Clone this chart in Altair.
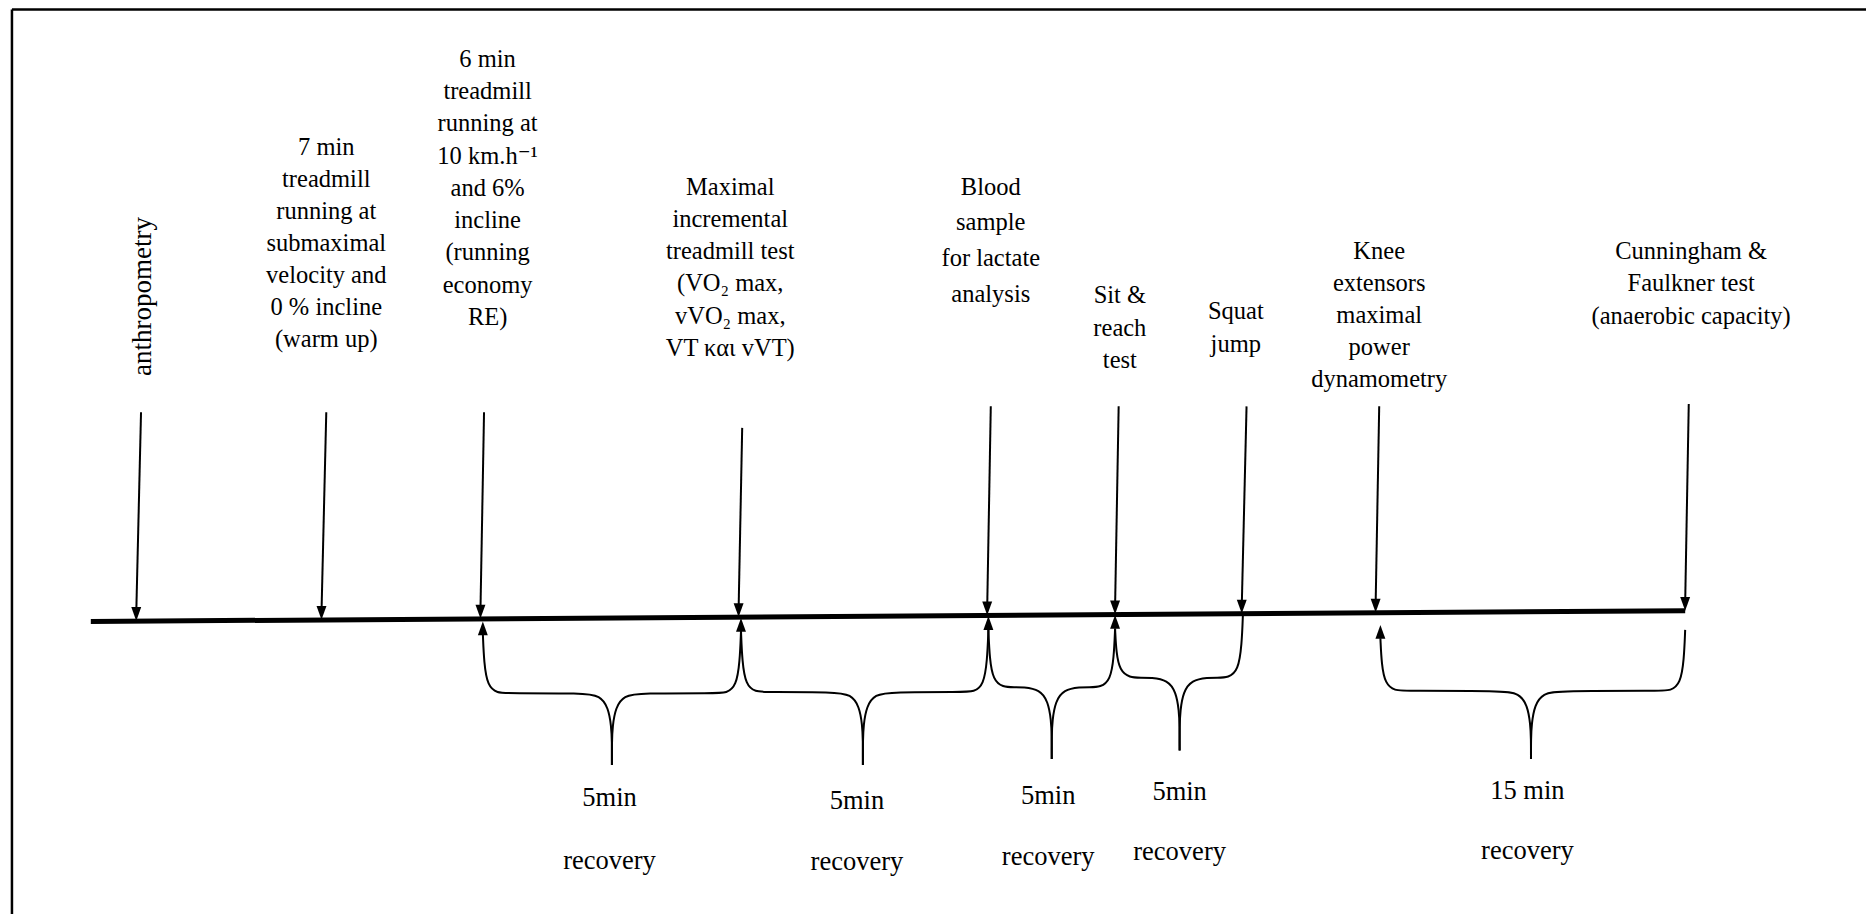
import altair as alt
import pandas as pd

# ---------------- data (positions in reference-image units, 1568x771 grid) ----------------
K = 1874 / 1568
W, H = 1858, 906

timeline_x = [76, 1410]
timeline_y = [520, 511]

event_labels = [
    "anthropometry",
    "7 min|treadmill|running at|submaximal|velocity and|0 % incline|(warm up)",
    "6 min|treadmill|running at|10 km.h⁻¹|and 6%|incline|(running|economy|RE)",
    "Maximal|incremental|treadmill test|(VO₂ max,|vVO₂ max,|VT και vVT)",
    "Blood|sample|for lactate|analysis",
    "Sit &|reach|test",
    "Squat|jump",
    "Knee|extensors|maximal|power|dynamometry",
    "Cunningham &|Faulkner test|(anaerobic capacity)",
]
label_cx = [120, 273, 408, 611, 829, 937, 1034, 1154, 1415]
label_y0 = [248, 124, 50, 157, 157, 248, 261, 211, 211]
label_dy = [0, 26.7, 27, 27, 30, 27, 28, 26.8, 27]

arrow_top_x = [118, 273, 405, 621, 829, 936, 1043, 1154, 1413]
arrow_top_y = [345, 345, 345, 358, 340, 340, 340, 340, 338]
arrow_tip_x = [114, 269, 402, 618, 826, 933, 1039, 1151, 1410]
arrow_tip_y = [519.5, 518.5, 517.5, 516.2, 514.8, 514.0, 513.3, 512.5, 511]

brace_left = [404, 620, 827, 933, 1155]
brace_right = [620, 827, 933, 1040, 1410]
brace_mid = [512, 722, 880, 987, 1281]
brace_top_left = [530, 528, 527, 526, 534]
brace_top_right = [528, 527, 526, 513, 527]
brace_h = [580, 579, 575, 567, 578]
brace_bottom = [640, 640, 635, 628, 635]
up_arrow_x = [404, 620, 827, 933, 1155]
up_arrow_y = [520, 517, 515.5, 514.5, 523]

recovery_top = ["5min", "5min", "5min", "5min", "15 min"]
recovery_x = [510, 717, 877, 987, 1278]
recovery_y1 = [668, 670, 666, 663, 662]
recovery_y2 = [720, 721, 717, 713, 712]

frame_left_x = 10
frame_top_y = 8

# ---------------- scales ----------------
xs = alt.Scale(domain=[8 / K, (8 + W) / K], nice=False, zero=False)
ys = alt.Scale(domain=[8 / K, (8 + H) / K], nice=False, zero=False, reverse=True)
X = lambda f: alt.X(f, type="quantitative", scale=xs, axis=None)
Y = lambda f: alt.Y(f, type="quantitative", scale=ys, axis=None)

FONT = "Liberation Serif, Times New Roman, Times, DejaVu Serif, serif"
FS_TOP = 24.5
FS_BOTTOM = 26.5
FS_ROT = 27

# frame (top and left border)
frame_df = pd.DataFrame({
    "x": [frame_left_x, frame_left_x],
    "y": [frame_top_y, frame_top_y],
    "x2": [1580, frame_left_x],
    "y2": [frame_top_y, 780],
})
frame = alt.Chart(frame_df).mark_rule(color="black", strokeWidth=2.5).encode(
    x=X("x"), y=Y("y"), x2="x2", y2="y2")

# timeline
tl_df = pd.DataFrame({"x": timeline_x, "y": timeline_y})
timeline = alt.Chart(tl_df).mark_line(color="black", strokeWidth=5).encode(x=X("x"), y=Y("y"))

# down arrows
arr_df = pd.DataFrame({"x": arrow_top_x, "y": arrow_top_y, "x2": arrow_tip_x,
                       "y2": [v - 6 for v in arrow_tip_y], "tx": arrow_tip_x, "ty": arrow_tip_y})
shafts = alt.Chart(arr_df).mark_rule(color="black", strokeWidth=2).encode(
    x=X("x"), y=Y("y"), x2="x2", y2="y2")
down_heads = alt.Chart(arr_df).mark_point(
    shape="M-0.36,-1L0.36,-1L0,0Z", size=760, filled=True, color="black", opacity=1, strokeWidth=0
).encode(x=X("tx"), y=Y("ty"))

# up arrows
up_df = pd.DataFrame({"x": up_arrow_x, "y": up_arrow_y})
up_heads = alt.Chart(up_df).mark_point(
    shape="M-0.36,1L0.36,1L0,0Z", size=760, filled=True, color="black", opacity=1, strokeWidth=0
).encode(x=X("x"), y=Y("y"))

# braces
rows = []
for b in range(len(brace_left)):
    xc, yh, yb = brace_mid[b], brace_h[b], brace_bottom[b]
    for side, xe, yt in (("L", brace_left[b], brace_top_left[b]), ("R", brace_right[b], brace_top_right[b])):
        s = 1 if xe < xc else -1
        pts = [(xe, yt)] * 3 + [
            (xe + s * 1, yt + 0.5 * (yh - yt)),
            (xe + s * 4, yh - 6),
            (xe + s * 12, yh),
            (xe + s * 22, yh),
            (xc - s * 24, yh),
            (xc - s * 10, yh + 2),
            (xc - s * 3, yh + 12),
            (xc - s * 0.5, yh + 28),
            (xc, yh + 40),
        ] + [(xc, yb)] * 3
        for i, (px, py) in enumerate(pts):
            rows.append({"seg": f"{b}{side}", "i": i, "x": px, "y": py})
brace_df = pd.DataFrame(rows)
braces = alt.Chart(brace_df).mark_line(color="black", strokeWidth=2, interpolate="basis").encode(
    x=X("x"), y=Y("y"), detail="seg:N", order="i:Q")

# top labels
lab_rows = []
for k, lab in enumerate(event_labels):
    if k == 0:
        continue
    for j, line in enumerate(lab.split("|")):
        lab_rows.append({"t": line, "x": label_cx[k], "y": label_y0[k] + j * label_dy[k]})
lab_df = pd.DataFrame(lab_rows)
labels = alt.Chart(lab_df).mark_text(font=FONT, fontSize=FS_TOP, color="black", baseline="middle",
                                     align="center").encode(x=X("x"), y=Y("y"), text="t:N")

anth_df = pd.DataFrame({"t": [event_labels[0]], "x": [label_cx[0]], "y": [label_y0[0]]})
anth = alt.Chart(anth_df).mark_text(font=FONT, fontSize=FS_ROT, color="black", baseline="middle",
                                    align="center", angle=270).encode(x=X("x"), y=Y("y"), text="t:N")

# recovery labels
rec_df = pd.DataFrame({
    "t": recovery_top + ["recovery"] * len(recovery_x),
    "x": recovery_x + recovery_x,
    "y": recovery_y1 + recovery_y2,
})
rec = alt.Chart(rec_df).mark_text(font=FONT, fontSize=FS_BOTTOM, color="black", baseline="middle",
                                  align="center").encode(x=X("x"), y=Y("y"), text="t:N")

chart = alt.layer(frame, timeline, shafts, down_heads, up_heads, braces, labels, anth, rec).properties(
    width=W, height=H, padding=0, autosize="none", background="white"
).configure_view(stroke=None)

chart.save("out.html", embed_options={"renderer": "svg", "actions": False})
